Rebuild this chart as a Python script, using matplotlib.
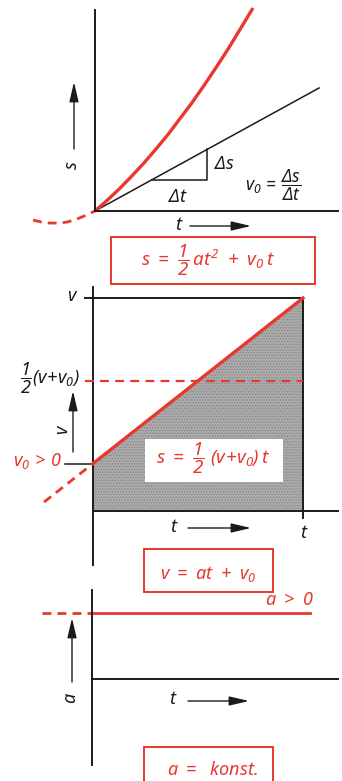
import matplotlib
matplotlib.use("Agg")
import matplotlib.pyplot as plt
from matplotlib.patches import Rectangle, Polygon

plt.rcParams['mathtext.fontset'] = 'custom'
for k in ['rm', 'it', 'sf', 'bf']:
    plt.rcParams['mathtext.' + k] = 'Noto Sans:italic'
plt.rcParams['font.family'] = ['Noto Sans', 'DejaVu Sans']
plt.rcParams['font.style'] = 'italic'
plt.rcParams['hatch.linewidth'] = 0.6

RED = '#e8382e'
BLK = '#1b1b1b'

# ---------------- data ----------------
# top panel: s(t) curve
s_t = [0, 0.5, 1.0, 1.5, 2.0, 2.5, 3.0, 3.5, 4.0, 4.5, 5.0, 5.5, 6.0, 6.5]
s_vals = [0, 0.53, 1.1, 1.72, 2.37, 3.07, 3.8, 4.6, 5.4, 6.27, 7.17, 8.1, 9.1, 10.1]
s_neg_t = [-2.55, -2.2, -1.85, -1.5, -1.15, -0.8, -0.45, 0]
s_neg_vals = [-0.45, -0.55, -0.6, -0.6, -0.55, -0.43, -0.25, 0]
tan_t = [0, 9.22]
tan_s = [0, 6.12]
tri_t = [2.35, 4.61, 4.61]
tri_s = [1.56, 1.56, 3.06]

# middle panel: v(t)
T_end = 10.0
v0 = 2.22
v_end = 10.0
v_half = (v_end + v0) / 2
v_ext_t = [-2.33, 0]
v_ext_v = [0.41, v0]

# bottom panel: a(t)
a_val = 1.0
a_t_end = 10.38
a_ext_t = [-2.38, 0]

W, H = 342, 781
fig = plt.figure(figsize=(W / 100, H / 100), dpi=100)


def rect(x0, y0, x1, y1):
    return [x0 / W, 1 - y1 / H, (x1 - x0) / W, (y1 - y0) / H]


def fp(x, y):
    return (x / W, 1 - y / H)


def style_axes(ax, zero_bottom=False):
    ax.set_xticks([])
    ax.set_yticks([])
    ax.patch.set_alpha(0)
    for sp in ['top', 'right']:
        ax.spines[sp].set_visible(False)
    for sp in ['left', 'bottom']:
        ax.spines[sp].set_linewidth(1.4)
        ax.spines[sp].set_color(BLK)
    if zero_bottom:
        ax.spines['bottom'].set_position(('data', 0))


def arrow(x0, y0, x1, y1):
    fig.add_artist(matplotlib.patches.FancyArrowPatch(
        fp(x0, y0), fp(x1, y1), transform=fig.transFigure,
        arrowstyle='-|>,head_length=1.2,head_width=0.28', mutation_scale=10,
        lw=1.0, color=BLK, shrinkA=0, shrinkB=0))


def ftext(x, y, s, color=BLK, size=13, **kw):
    fig.text(*fp(x, y), s, color=color, fontsize=size, ha='center', va='center',
             fontstyle='italic', **kw)


def rbox(x0, y0, x1, y1):
    fig.add_artist(Rectangle(fp(x0, y1), (x1 - x0) / W, (y1 - y0) / H,
                             transform=fig.transFigure, fill=False,
                             edgecolor=RED, lw=1.4))

# ---------------- top panel ----------------
ax1 = fig.add_axes(rect(95, 10, 338, 211))
ax1.set_xlim(0, 10)
ax1.set_ylim(0, 10)
style_axes(ax1)
ax1.plot(tan_t, tan_s, color=BLK, lw=1.1, clip_on=False)
ax1.plot(tri_t, tri_s, color=BLK, lw=1.1, clip_on=False)
ax1.plot(s_t, s_vals, color=RED, lw=2.4, clip_on=False, solid_capstyle='butt')
ax1.plot(s_neg_t, s_neg_vals, color=RED, lw=2.0, dashes=(3.2, 2.2), clip_on=False)

ftext(224, 164, r'$\Delta s$')
ftext(178, 197, r'$\Delta t$')
ftext(273, 185, r'$v_0\,=\,\dfrac{\Delta s}{\Delta t}$', size=12.5)
ftext(72, 165, 's', rotation=90)
arrow(74, 149, 74, 82)
ftext(178, 225, 't')
arrow(190, 226, 251, 226)
rbox(111, 237, 315, 284)
ftext(208, 260, r'$s\ =\ \dfrac{1}{2}\,at^2\ +\ v_0\,t$', color=RED, size=13.5)

# ---------------- middle panel ----------------
ax2 = fig.add_axes(rect(93, 287, 338, 565))
ax2.set_xlim(0, 11.667)
ax2.set_ylim(-2.55, 10.52)
style_axes(ax2, zero_bottom=True)
ax2.add_patch(Polygon([(0, 0), (0, v0), (T_end, v_end), (T_end, 0)], closed=True,
                      facecolor='#ababab', edgecolor='#858585', hatch='......',
                      lw=0, zorder=1))
ax2.plot([-0.38, T_end], [v_end, v_end], color=BLK, lw=1.4, clip_on=False)
ax2.plot([T_end, T_end], [-0.33, v_end], color=BLK, lw=1.4, clip_on=False)
ax2.plot([-1.33, 0], [v0, v0], color=BLK, lw=1.1, clip_on=False)
ax2.plot([-0.4, T_end], [v_half, v_half], color=RED, lw=1.6, dashes=(4, 2.8),
         clip_on=False, zorder=3)
ax2.plot([0, T_end], [v0, v_end], color=RED, lw=2.4, clip_on=False, zorder=4)
ax2.plot(v_ext_t, v_ext_v, color=RED, lw=2.0, dashes=(3.2, 2.2), clip_on=False)
ax2.add_patch(Rectangle((52 / 21, (509 - 480) / 21.2), 138 / 21, 43 / 21.2,
                        facecolor='white', edgecolor='none', zorder=5))
ftext(213, 458, r'$s\ =\ \dfrac{1}{2}\ (v\!+\!v_0)\,t$', color=RED, size=13.5, zorder=6)

ftext(71, 296, 'v')
ftext(50, 378, r'$\dfrac{1}{2}(v\!+\!v_0)$', size=13)
ftext(38, 461, r'$v_0\,>\,0$', color=RED)
ftext(62, 430, 'v', rotation=90)
arrow(73, 452, 73, 391)
ftext(173, 527, 't')
arrow(188, 528, 251, 528)
ftext(303, 533, 't')
rbox(144, 549, 273, 592)
ftext(208, 574, r'$v\ =\ at\ +\ v_0$', color=RED)

# ---------------- bottom panel ----------------
ax3 = fig.add_axes(rect(92, 590, 338, 765))
ax3.set_xlim(0, 11.71)
ax3.set_ylim(-1.303, 1.348)
style_axes(ax3, zero_bottom=True)
ax3.plot([0, a_t_end], [a_val, a_val], color=RED, lw=2.0, clip_on=False)
ax3.plot(a_ext_t, [a_val, a_val], color=RED, lw=2.0, dashes=(3.2, 2.2), clip_on=False)
ftext(290, 600, r'$a\ >\ 0$', color=RED)
ftext(70, 698, 'a', rotation=90)
arrow(72, 682, 72, 618)
ftext(172, 699, 't')
arrow(188, 701, 249, 701)
rbox(144, 747, 273, 795)
ftext(212, 770, r'$a\ =\ \ konst.$', color=RED)

fig.savefig('out.png', dpi=100)
